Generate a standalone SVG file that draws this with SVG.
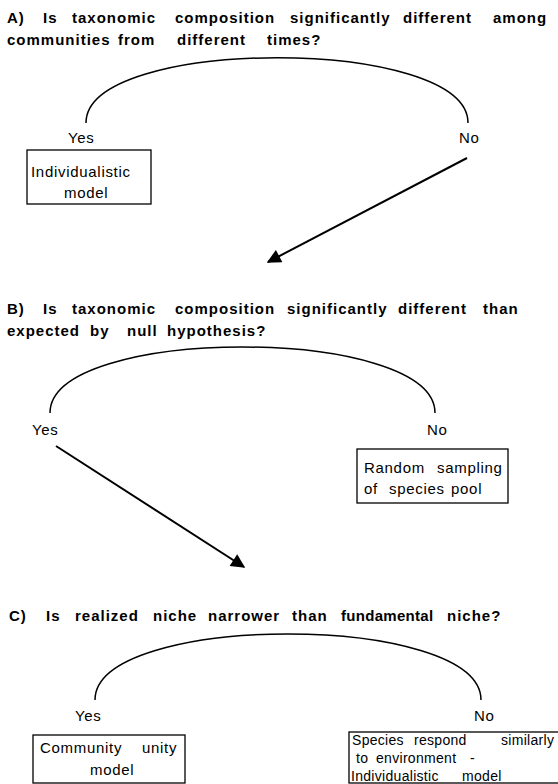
<svg xmlns="http://www.w3.org/2000/svg" width="558" height="784" viewBox="0 0 558 784">
<style>
.q{font-family:"Liberation Sans",Arial,sans-serif;font-weight:bold;font-size:15px;letter-spacing:1px;fill:#000}
.t{font-family:"Liberation Sans",Arial,sans-serif;font-size:15px;letter-spacing:0.7px;fill:#000}
.s{font-family:"Liberation Sans",Arial,sans-serif;font-size:14px;letter-spacing:0.3px;fill:#000}
.arc{fill:none;stroke:#000;stroke-width:1.5}
.box{fill:#fff;stroke:#000;stroke-width:1.3}
.arr{fill:none;stroke:#000;stroke-width:2;marker-end:url(#ah)}
</style>
<defs>
<marker id="ah" viewBox="0 0 10 10" refX="9" refY="5" markerWidth="8.5" markerHeight="7" markerUnits="strokeWidth" orient="auto">
<path d="M0,0 L10,5 L0,10 z" fill="#000"/>
</marker>
</defs>
<rect width="558" height="784" fill="#fff"/>
<g id="questionA">
<text class="q" y="23"><tspan x="7">A)</tspan><tspan x="43">Is</tspan><tspan x="72">taxonomic</tspan><tspan x="175">composition</tspan><tspan x="290">significantly</tspan><tspan x="403">different</tspan><tspan x="493">among</tspan></text>
<text class="q" y="45"><tspan x="7">communities</tspan><tspan x="118">from</tspan><tspan x="177">different</tspan><tspan x="267">times?</tspan></text>
<path class="arc" d="M86,123 C86,36 468,36 468,123"/>
<text class="t" x="68" y="143">Yes</text>
<text class="t" x="459" y="143">No</text>
</g>
<g id="boxA">
<rect class="box" x="27" y="150" width="124" height="54"/>
<text class="t" x="31" y="177">Individualistic</text>
<text class="t" x="64" y="198">model</text>
</g>
<g id="questionB">
<text class="q" y="314"><tspan x="7">B)</tspan><tspan x="43">Is</tspan><tspan x="72">taxonomic</tspan><tspan x="175">composition</tspan><tspan x="287">significantly</tspan><tspan x="398">different</tspan><tspan x="483">than</tspan></text>
<text class="q" y="336"><tspan x="7">expected</tspan><tspan x="90">by</tspan><tspan x="127">null</tspan><tspan x="167">hypothesis?</tspan></text>
<path class="arc" d="M50,413 C50,325 435,325 435,413"/>
<text class="t" x="32" y="435">Yes</text>
<text class="t" x="427" y="435">No</text>
</g>
<g id="boxB">
<rect class="box" x="357" y="449" width="151" height="54"/>
<text class="t" y="473"><tspan x="364">Random</tspan><tspan x="437">sampling</tspan></text>
<text class="t" y="494"><tspan x="364">of</tspan><tspan x="389">species</tspan><tspan x="451">pool</tspan></text>
</g>
<g id="questionC">
<text class="q" y="621"><tspan x="9">C)</tspan><tspan x="46">Is</tspan><tspan x="75">realized</tspan><tspan x="153">niche</tspan><tspan x="208">narrower</tspan><tspan x="292">than</tspan><tspan x="341" letter-spacing="0.3">fundamental</tspan><tspan x="447">niche?</tspan></text>
<path class="arc" d="M95,700 C95,612 481,612 481,700"/>
<text class="t" x="75" y="721">Yes</text>
<text class="t" x="474" y="721">No</text>
</g>
<g id="boxC1">
<rect class="box" x="33" y="735" width="152" height="48"/>
<text class="t" y="753"><tspan x="40">Community</tspan><tspan x="142">unity</tspan></text>
<text class="t" x="90" y="775">model</text>
</g>
<g id="boxC2">
<rect class="box" x="349" y="732" width="214" height="51"/>
<text class="s" y="745"><tspan x="352">Species</tspan><tspan x="414">respond</tspan><tspan x="501">similarly</tspan></text>
<text class="s" y="763"><tspan x="356">to</tspan><tspan x="376">environment</tspan><tspan x="470">-</tspan></text>
<text class="s" y="781"><tspan x="351">Individualistic</tspan><tspan x="462">model</tspan></text>
</g>
<g id="connectors">
<line class="arr" x1="467" y1="158" x2="268" y2="262"/>
<line class="arr" x1="56" y1="446" x2="244" y2="567"/>
</g>
</svg>
